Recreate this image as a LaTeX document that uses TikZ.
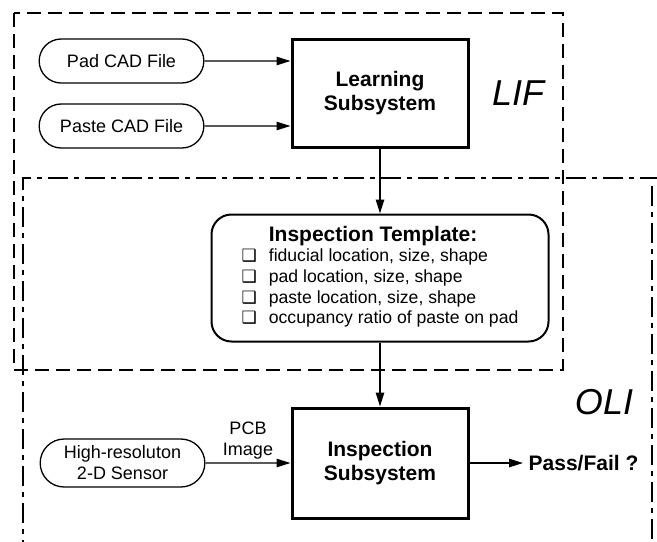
\documentclass[tikz,border=0pt]{standalone}
\usepackage{fontspec}
\setmainfont{Liberation Sans}
\newfontfamily\symfont{DejaVu Sans}
\usetikzlibrary{arrows.meta,positioning,shapes.misc}

\begin{document}
\begin{tikzpicture}[->, >={Triangle[length=7pt,width=4.2pt]}, line width=0.7pt,
    font=\fontsize{9}{10.5}\selectfont]
		\tikzstyle{filebox}=[rounded rectangle, draw, line width=0.65pt, minimum width=89pt, minimum height=22pt, align=center]
		\tikzstyle{subsys}=[rectangle, draw, line width=1.5pt, minimum width=88pt, minimum height=54pt, align=center, font=\fontsize{10.5}{12}\selectfont\bfseries]
		\tikzstyle{zone}=[-, line width=0.7pt]
		\useasboundingbox (0pt,0pt) rectangle (328.5pt,-270.5pt);
		% learning side
		\node[subsys]   (learn) at (190pt,-46.5pt)            {Learning\\Subsystem};
		\node[filebox]  (pad)  [left=43pt of learn.west, yshift=16pt]   {Pad CAD File};
		\node[filebox]  (paste)[left=43pt of learn.west, yshift=-16.5pt] {Paste CAD File};
		\node[inner sep=0pt] (lif) [right=11pt of learn] {\fontsize{18}{20}\selectfont\itshape LIF};
		% template
		\node[draw, rounded corners=10pt, line width=1pt, minimum width=168.5pt, minimum height=63.5pt]
		    (tmpl) [below=32.5pt of learn] {%
		    \fontsize{8.8}{10.3}\selectfont
		    \begin{tabular}{@{}l@{\hspace{6pt}}l@{}}
		      & {\fontsize{10.5}{10.3}\selectfont\bfseries Inspection Template:}\\
		      {\symfont\fontsize{8.5}{8}\selectfont ❑} & fiducial location, size, shape\\
		      {\symfont\fontsize{8.5}{8}\selectfont ❑} & pad location, size, shape\\
		      {\symfont\fontsize{8.5}{8}\selectfont ❑} & paste location, size, shape\\
		      {\symfont\fontsize{8.5}{8}\selectfont ❑} & occupancy ratio of paste on pad
		    \end{tabular}};
		% inspection side
		\node[subsys, minimum height=55pt] (insp) [below=32pt of tmpl.south -| learn] {Inspection\\Subsystem};
		\node[filebox, minimum height=24pt] (sensor) [left=42.5pt of insp] {High-resoluton\\2-D Sensor};
		\node[inner xsep=2.5pt, inner ysep=0pt] (pf) [right=26.75pt of insp] {\fontsize{10.5}{12}\selectfont\bfseries Pass/Fail ?};
		\node[inner sep=0pt] (oli) at (302pt,-201pt) {\fontsize{18}{20}\selectfont\itshape OLI};
		% zones
		\draw[zone, dash pattern=on 7pt off 3.5pt] (7pt,-6.5pt) rectangle (281.5pt,-185pt);
		\draw[zone, dash pattern=on 10pt off 3pt on 2.5pt off 3pt] (11.5pt,-280pt) -- (11.5pt,-89pt) -- (330pt,-89pt)
		    (326pt,-93pt) -- (326pt,-280pt);
		% connectors
		\draw (pad) -- (pad -| learn.west);
		\draw (paste) -- (paste -| learn.west);
		\draw (learn) -- (tmpl);
		\draw (tmpl.south -| insp) -- (insp);
		\draw (sensor) -- node[above, align=center, inner sep=1.5pt] {PCB\\Image} (insp);
		\draw (insp) -- (pf);
	\end{tikzpicture}
\end{document}
